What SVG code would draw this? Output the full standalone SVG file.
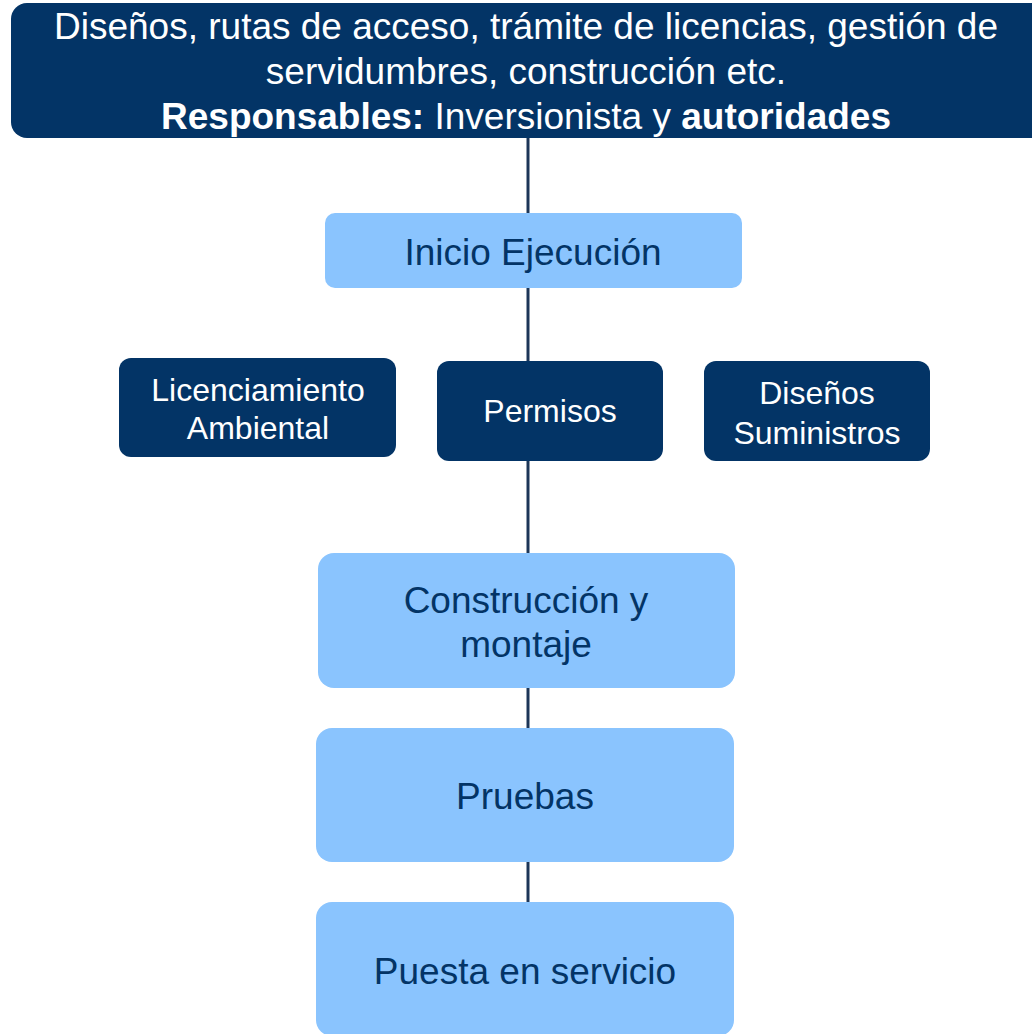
<svg xmlns="http://www.w3.org/2000/svg" width="1032" height="1034" viewBox="0 0 1032 1034">
<style>
.dark{fill:#033466;}
.light{fill:#8AC4FE;}
.tw{fill:#ffffff;font-family:"Liberation Sans",Arial,sans-serif;text-anchor:middle;}
.td{fill:#033466;font-family:"Liberation Sans",Arial,sans-serif;text-anchor:middle;}
.conn{stroke:#1C3658;stroke-width:3;fill:none;}
</style>
<rect width="1032" height="1034" fill="#ffffff"/>
<g id="connectors">
<line class="conn" x1="528" y1="138" x2="528" y2="214"/>
<line class="conn" x1="528" y1="288" x2="528" y2="362"/>
<line class="conn" x1="528" y1="460" x2="528" y2="554"/>
<line class="conn" x1="528" y1="688" x2="528" y2="729"/>
<line class="conn" x1="528" y1="862" x2="528" y2="903"/>
</g>
<g id="node-top">
<rect class="dark" x="11" y="3" width="1040" height="135" rx="16"/>
<text class="tw" font-size="37" x="526" y="39">Diseños, rutas de acceso, trámite de licencias, gestión de</text>
<text class="tw" font-size="37" x="526" y="84">servidumbres, construcción etc.</text>
<text class="tw" font-size="37" x="526" y="129"><tspan font-weight="bold">Responsables:</tspan> Inversionista y <tspan font-weight="bold">autoridades</tspan></text>
</g>
<g id="node-inicio">
<rect class="light" x="325" y="213" width="417" height="75" rx="10"/>
<text class="td" font-size="37" x="533" y="265">Inicio Ejecución</text>
</g>
<g id="node-licenciamiento">
<rect class="dark" x="119" y="358" width="277" height="99" rx="12"/>
<text class="tw" font-size="32" x="258" y="401">Licenciamiento</text>
<text class="tw" font-size="32" x="258" y="439">Ambiental</text>
</g>
<g id="node-permisos">
<rect class="dark" x="437" y="361" width="226" height="100" rx="12"/>
<text class="tw" font-size="32" x="550" y="422">Permisos</text>
</g>
<g id="node-disenos">
<rect class="dark" x="704" y="361" width="226" height="100" rx="12"/>
<text class="tw" font-size="32" x="817" y="404">Diseños</text>
<text class="tw" font-size="32" x="817" y="444">Suministros</text>
</g>
<g id="node-construccion">
<rect class="light" x="318" y="553" width="417" height="135" rx="16"/>
<text class="td" font-size="37" x="526" y="613">Construcción y</text>
<text class="td" font-size="37" x="526" y="657">montaje</text>
</g>
<g id="node-pruebas">
<rect class="light" x="316" y="728" width="418" height="134" rx="16"/>
<text class="td" font-size="37" x="525" y="809">Pruebas</text>
</g>
<g id="node-puesta">
<rect class="light" x="316" y="902" width="418" height="134" rx="16"/>
<text class="td" font-size="37" x="525" y="984">Puesta en servicio</text>
</g>
</svg>
